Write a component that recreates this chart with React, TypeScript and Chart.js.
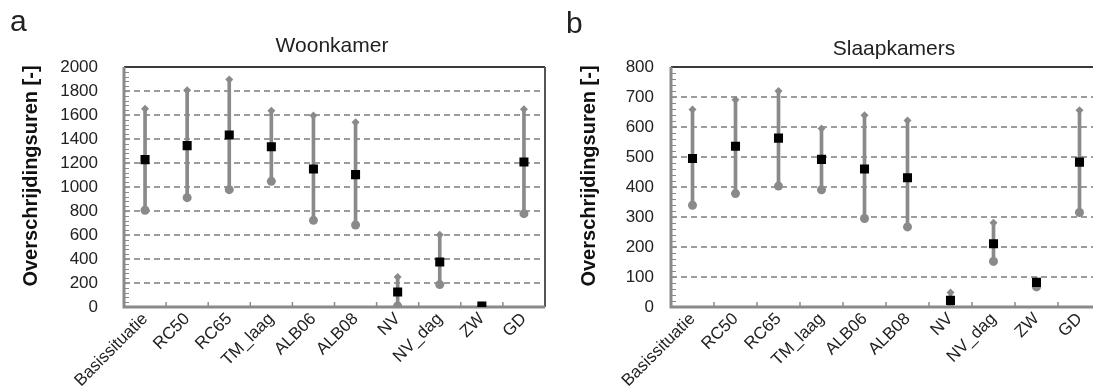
import React, { useEffect, useRef } from "react";
import { Chart, registerables } from "chart.js";

Chart.register(...registerables);

const categories = ["Basissituatie", "RC50", "RC65", "TM_laag", "ALB06", "ALB08", "NV", "NV_dag", "ZW", "GD"];

const woonMin = [806, 911, 978, 1047, 722, 683, 8, 187, 2, 778];
const woonMean = [1228, 1345, 1433, 1336, 1150, 1103, 125, 375, 8, 1208];
const woonMax = [1653, 1806, 1895, 1635, 1595, 1539, 250, 603, 15, 1647];

const slaapMin = [339, 378, 403, 391, 295, 267, 15, 152, 67, 315];
const slaapMean = [495, 536, 563, 492, 460, 431, 22, 211, 82, 483];
const slaapMax = [658, 691, 720, 595, 639, 622, 48, 281, 88, 656];

const woonTicks = { min: 0, max: 2000, step: 200, minor: 40 };
const slaapTicks = { min: 0, max: 800, step: 100, minor: 20 };

const FONT = "'Liberation Sans', Arial, sans-serif";
const GRAY = "#8a8a8a";

type PanelCfg = {
  letter: string;
  title: string;
  yTitle: string;
  mins: number[];
  means: number[];
  maxs: number[];
  ticks: { min: number; max: number; step: number; minor: number };
  yWidth: number;
  tickPad: number;
  padRight: number;
  letterX: number;
  letterY: number;
  titleX: number;
  titleY: number;
  yTitleX: number;
  yTitleY: number;
  rightBorder: boolean;
};

function makePlugin(cfg: PanelCfg) {
  return {
    id: "decor",
    beforeDatasetsDraw(chart: any) {
      const { ctx, chartArea: a, scales } = chart;
      const y = scales.y;
      const x = scales.x;
      ctx.save();
      // dashed grid
      ctx.strokeStyle = "#9c9c9c";
      ctx.lineWidth = 1.8;
      ctx.setLineDash([6, 4]);
      for (let v = cfg.ticks.min + cfg.ticks.step; v < cfg.ticks.max; v += cfg.ticks.step) {
        const py = Math.round(y.getPixelForValue(v));
        ctx.beginPath();
        ctx.moveTo(a.left, py);
        ctx.lineTo(a.right, py);
        ctx.stroke();
      }
      ctx.setLineDash([]);
      // minor ticks on y axis
      ctx.strokeStyle = GRAY;
      ctx.lineWidth = 1;
      for (let v = cfg.ticks.min; v <= cfg.ticks.max; v += cfg.ticks.minor) {
        const py = Math.round(y.getPixelForValue(v)) + 0.5;
        ctx.beginPath();
        ctx.moveTo(a.left, py);
        ctx.lineTo(a.left + 5, py);
        ctx.stroke();
      }
      // x ticks at category boundaries
      ctx.lineWidth = 1.5;
      const n = categories.length;
      const half = (x.getPixelForValue(1) - x.getPixelForValue(0)) / 2;
      for (let i = 0; i <= n; i++) {
        const px = i < n ? x.getPixelForValue(i) - half : a.right;
        ctx.beginPath();
        ctx.moveTo(px, a.bottom);
        ctx.lineTo(px, a.bottom - 5);
        ctx.stroke();
      }
      // top border
      ctx.strokeStyle = "#3a3a3a";
      ctx.lineWidth = 2;
      ctx.beginPath();
      ctx.moveTo(a.left, a.top);
      ctx.lineTo(a.right, a.top);
      ctx.stroke();
      if (cfg.rightBorder) {
        ctx.strokeStyle = "#555";
        ctx.beginPath();
        ctx.moveTo(a.right, a.top);
        ctx.lineTo(a.right, a.bottom);
        ctx.stroke();
      }
      // left & bottom axes
      ctx.strokeStyle = GRAY;
      ctx.lineWidth = 3;
      ctx.beginPath();
      ctx.moveTo(a.left, a.top);
      ctx.lineTo(a.left, a.bottom);
      ctx.lineTo(a.right, a.bottom);
      ctx.stroke();
      ctx.restore();
    },
    afterDraw(chart: any) {
      const { ctx } = chart;
      ctx.save();
      ctx.fillStyle = "#222";
      ctx.textAlign = "left";
      ctx.textBaseline = "alphabetic";
      ctx.font = `30px ${FONT}`;
      ctx.fillText(cfg.letter, cfg.letterX, cfg.letterY);
      ctx.textAlign = "center";
      ctx.font = `21px ${FONT}`;
      ctx.fillText(cfg.title, cfg.titleX, cfg.titleY);
      ctx.translate(cfg.yTitleX, cfg.yTitleY);
      ctx.rotate(-Math.PI / 2);
      ctx.font = `bold 20px ${FONT}`;
      ctx.fillStyle = "#111";
      ctx.fillText(cfg.yTitle, 0, 0);
      ctx.restore();
    },
  };
}

function Panel({ cfg, left }: { cfg: PanelCfg; left: number }) {
  const ref = useRef<HTMLCanvasElement>(null);
  useEffect(() => {
    const canvas = ref.current!;
    const chart = new Chart(canvas, {
      type: "bar",
      data: {
        labels: categories,
        datasets: [
          {
            type: "line",
            data: cfg.means,
            showLine: false,
            pointStyle: "rect",
            pointRadius: 6.4,
            pointBackgroundColor: "#000",
            pointBorderWidth: 0,
            order: 0,
          } as any,
          {
            type: "line",
            data: cfg.mins,
            showLine: false,
            pointStyle: "circle",
            pointRadius: 4.5,
            pointBackgroundColor: GRAY,
            pointBorderWidth: 0,
            order: 1,
          } as any,
          {
            type: "line",
            data: cfg.maxs,
            showLine: false,
            pointStyle: "rectRot",
            pointRadius: 4,
            pointBackgroundColor: GRAY,
            pointBorderWidth: 0,
            order: 2,
          } as any,
          {
            type: "bar",
            data: cfg.mins.map((m, i) => [m, cfg.maxs[i]]),
            backgroundColor: GRAY,
            borderWidth: 0,
            barThickness: 3,
            order: 3,
          } as any,
        ],
      },
      options: {
        responsive: false,
        animation: false,
        events: [],
        layout: { padding: { top: 67, right: cfg.padRight, left: 0, bottom: 0 } },
        plugins: { legend: { display: false }, tooltip: { enabled: false } },
        scales: {
          x: {
            grid: { display: false, drawTicks: false },
            border: { display: false },
            ticks: {
              autoSkip: false,
              maxRotation: 45,
              minRotation: 45,
              padding: 2,
              color: "#222",
              font: { family: FONT, size: 17 },
            },
            afterFit: (s: any) => {
              s.height = 84;
            },
          },
          y: {
            min: cfg.ticks.min,
            max: cfg.ticks.max,
            grid: { display: false, drawTicks: false },
            border: { display: false },
            ticks: {
              stepSize: cfg.ticks.step,
              padding: cfg.tickPad,
              color: "#222",
              font: { family: FONT, size: 17 },
              callback: (v: any) => String(v),
            },
            afterFit: (s: any) => {
              s.width = cfg.yWidth;
            },
          },
        },
      } as any,
      plugins: [makePlugin(cfg)],
    });
    return () => chart.destroy();
  }, []);
  return (
    <canvas
      ref={ref}
      width={560}
      height={391}
      style={{ position: "absolute", left, top: 0, width: 560, height: 391 }}
    />
  );
}

const woonCfg: PanelCfg = {
  letter: "a",
  title: "Woonkamer",
  yTitle: "Overschrijdingsuren [-]",
  mins: woonMin,
  means: woonMean,
  maxs: woonMax,
  ticks: woonTicks,
  yWidth: 124,
  tickPad: 26,
  padRight: 15,
  letterX: 10,
  letterY: 31,
  titleX: 332,
  titleY: 52,
  yTitleX: 37,
  yTitleY: 176,
  rightBorder: true,
};

const slaapCfg: PanelCfg = {
  letter: "b",
  title: "Slaapkamers",
  yTitle: "Overschrijdingsuren [-]",
  mins: slaapMin,
  means: slaapMean,
  maxs: slaapMax,
  ticks: slaapTicks,
  yWidth: 123,
  tickPad: 17,
  padRight: 7,
  letterX: 18,
  letterY: 33,
  titleX: 346,
  titleY: 55,
  yTitleX: 47,
  yTitleY: 176,
  rightBorder: false,
};

export default function App() {
  return (
    <div
      style={{
        position: "fixed",
        left: 0,
        top: 0,
        width: 1093,
        height: 391,
        overflow: "hidden",
        background: "#fff",
      }}
    >
      <Panel cfg={woonCfg} left={0} />
      <Panel cfg={slaapCfg} left={548} />
    </div>
  );
}
